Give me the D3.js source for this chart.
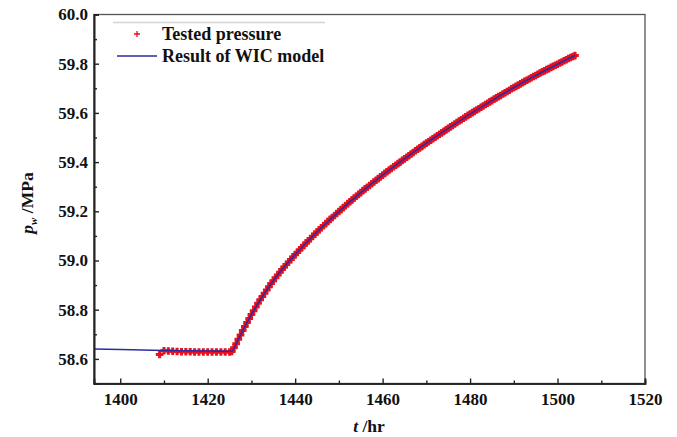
<!DOCTYPE html>
<html>
<head>
<meta charset="utf-8">
<script src="https://cdn.jsdelivr.net/npm/d3@7"></script>
<style>
  html, body { margin: 0; padding: 0; background: #fff; }
  svg { display: block; }
  text { font-family: "Liberation Serif", "Times New Roman", serif; font-weight: bold; fill: #111; }
</style>
</head>
<body>
<svg id="chart" width="677" height="437"></svg>
<script>
// Tested bottom-hole pressure (hr, MPa)
const testedTime = [
  1409, 1410, 1411, 1412, 1413, 1414, 1415, 1416, 1417, 1418, 1419, 1420, 1421, 1422, 1423, 1424, 1425,
  1425.5, 1426, 1426.5, 1427, 1427.5, 1428, 1428.5, 1429, 1429.5, 1430, 1430.5, 1431, 1431.5, 1432, 1432.5,
  1433, 1433.5, 1434, 1434.5, 1435, 1435.5, 1436, 1436.5, 1437, 1437.5, 1438, 1438.5, 1439, 1439.5,
  1440, 1440.5, 1441, 1441.5, 1442, 1442.5, 1443, 1443.5, 1444, 1444.5, 1445, 1445.5,
  1446, 1446.5, 1447, 1447.5, 1448, 1448.5, 1449, 1449.5, 1450, 1450.5, 1451, 1451.5, 1452, 1452.5,
  1453, 1453.5, 1454, 1454.5, 1455, 1455.5, 1456, 1456.5, 1457, 1457.5, 1458, 1458.5, 1459, 1459.5,
  1460, 1460.5, 1461, 1461.5, 1462, 1462.5, 1463, 1463.5, 1464, 1464.5, 1465, 1465.5, 1466, 1466.5,
  1467, 1467.5, 1468, 1468.5, 1469, 1469.5, 1470, 1470.5, 1471, 1471.5, 1472, 1472.5, 1473, 1473.5,
  1474, 1474.5, 1475, 1475.5, 1476, 1476.5, 1477, 1477.5, 1478, 1478.5, 1479, 1479.5, 1480, 1480.5,
  1481, 1481.5, 1482, 1482.5, 1483, 1483.5, 1484, 1484.5, 1485, 1485.5, 1486, 1486.5, 1487, 1487.5,
  1488, 1488.5, 1489, 1489.5, 1490, 1490.5, 1491, 1491.5, 1492, 1492.5, 1493, 1493.5, 1494, 1494.5,
  1495, 1495.5, 1496, 1496.5, 1497, 1497.5, 1498, 1498.5, 1499, 1499.5, 1500, 1500.5, 1501, 1501.5,
  1502, 1502.5, 1503, 1503.5, 1504
];
const testedPressure = [
  58.618, 58.633, 58.632, 58.631, 58.630, 58.629, 58.629, 58.629, 58.628, 58.628, 58.628, 58.628, 58.628, 58.628, 58.628, 58.628, 58.628,
  58.630, 58.645, 58.662, 58.680, 58.697, 58.715, 58.732, 58.748, 58.764, 58.780, 58.796, 58.811, 58.826, 58.840, 58.854,
  58.867, 58.880, 58.893, 58.906, 58.918, 58.930, 58.941, 58.952, 58.963, 58.974, 58.984, 58.994, 59.004, 59.014,
  59.024, 59.033, 59.043, 59.052, 59.062, 59.071, 59.080, 59.089, 59.098, 59.107, 59.116, 59.125,
  59.133, 59.142, 59.150, 59.159, 59.167, 59.175, 59.183, 59.191, 59.199, 59.207, 59.215, 59.223, 59.231, 59.239,
  59.246, 59.254, 59.261, 59.269, 59.276, 59.284, 59.291, 59.298, 59.305, 59.312, 59.319, 59.326, 59.333, 59.340,
  59.347, 59.354, 59.361, 59.368, 59.374, 59.381, 59.387, 59.394, 59.400, 59.407, 59.413, 59.420, 59.426, 59.433,
  59.439, 59.446, 59.452, 59.458, 59.464, 59.471, 59.477, 59.483, 59.489, 59.495, 59.501, 59.507, 59.513, 59.519,
  59.525, 59.531, 59.537, 59.543, 59.549, 59.555, 59.561, 59.567, 59.572, 59.578, 59.584, 59.590, 59.595, 59.601,
  59.606, 59.612, 59.617, 59.623, 59.628, 59.634, 59.639, 59.645, 59.650, 59.656, 59.661, 59.666, 59.671, 59.677,
  59.682, 59.687, 59.692, 59.698, 59.703, 59.708, 59.713, 59.718, 59.723, 59.728, 59.733, 59.738, 59.743, 59.748,
  59.752, 59.757, 59.762, 59.767, 59.771, 59.776, 59.780, 59.785, 59.789, 59.794, 59.798, 59.803, 59.807, 59.812,
  59.816, 59.821, 59.825, 59.829, 59.833
];

// WIC model result (hr, MPa)
const modelTime = [
  1394, 1400, 1405, 1410, 1415, 1420, 1425.5, 1427, 1429, 1431, 1433, 1435, 1437, 1440,
  1445, 1450, 1455, 1460, 1465, 1470, 1475, 1480, 1485, 1490, 1495, 1500, 1504
];
const modelPressure = [
  58.640, 58.638, 58.636, 58.634, 58.633, 58.632, 58.631, 58.680, 58.748, 58.811, 58.867, 58.918, 58.963, 59.024,
  59.116, 59.199, 59.276, 59.347, 59.413, 59.477, 59.537, 59.595, 59.650, 59.703, 59.752, 59.798, 59.833
];

// Axis ticks
const xTicks = [1400, 1420, 1440, 1460, 1480, 1500, 1520];
const xMinorTicks = [1410, 1430, 1450, 1470, 1490, 1510];
const yTicks = [58.6, 58.8, 59.0, 59.2, 59.4, 59.6, 59.8, 60.0];
const yMinorTicks = [58.5, 58.7, 58.9, 59.1, 59.3, 59.5, 59.7, 59.9];

const seriesNames = ["Tested pressure", "Result of WIC model"];

const svg = d3.select("#chart");
const plotLeft = 94, plotRight = 645, plotTop = 14.5, plotBottom = 383.5;

const x = d3.scaleLinear().domain([1394, 1520]).range([plotLeft, plotRight]);
const y = d3.scaleLinear().domain([58.5, 60.0]).range([plotBottom, plotTop]);

const red = "#e8101c";
const blue = "#2b2ba6";

// frame
svg.append("rect")
  .attr("x", plotLeft).attr("y", plotTop)
  .attr("width", plotRight - plotLeft).attr("height", plotBottom - plotTop)
  .attr("fill", "none").attr("stroke", "#555").attr("stroke-width", 1.3);

// tested data as "+" markers
const plusPath = (s) => `M${-s},0H${s}M0,${-s}V${s}`;
svg.append("g")
  .selectAll("path")
  .data(testedTime.map((t, i) => [t, testedPressure[i]]))
  .join("path")
  .attr("transform", d => `translate(${x(d[0])},${y(d[1])})`)
  .attr("d", plusPath(3.8))
  .attr("stroke", red)
  .attr("stroke-width", 3)
  .attr("fill", "none");

// model line
const line = d3.line()
  .x(d => x(d[0])).y(d => y(d[1]))
  .curve(d3.curveMonotoneX);
svg.append("path")
  .datum(modelTime.map((t, i) => [t, modelPressure[i]]))
  .attr("d", line)
  .attr("fill", "none")
  .attr("stroke", blue)
  .attr("stroke-width", 1.6);

// axes
const fmt = d3.format(".1f");
svg.append("g")
  .attr("transform", `translate(0,${plotBottom})`)
  .call(d3.axisBottom(x).tickValues(xTicks).tickSize(-5).tickPadding(9).tickFormat(d3.format("d")));
svg.append("g")
  .attr("transform", `translate(0,${plotBottom})`)
  .call(d3.axisBottom(x).tickValues(xMinorTicks).tickSize(-3).tickFormat(""));
svg.append("g")
  .attr("transform", `translate(${plotLeft},0)`)
  .call(d3.axisLeft(y).tickValues(yTicks).tickSize(-5).tickPadding(6).tickFormat(fmt));
svg.append("g")
  .attr("transform", `translate(${plotLeft},0)`)
  .call(d3.axisLeft(y).tickValues(yMinorTicks).tickSize(-3).tickFormat(""));

svg.selectAll(".domain").attr("stroke", "#222").attr("stroke-width", 1.6);
svg.selectAll(".tick line").attr("stroke", "#222").attr("stroke-width", 1.4);
svg.selectAll(".tick text")
  .attr("font-family", "Liberation Serif, Times New Roman, serif")
  .attr("font-weight", "bold")
  .attr("font-size", 17)
  .attr("fill", "#111");

// axis titles
const xTitle = svg.append("text")
  .attr("x", 369).attr("y", 432)
  .attr("text-anchor", "middle")
  .attr("font-size", 17.5);
xTitle.append("tspan").attr("font-style", "italic").text("t");
xTitle.append("tspan").text(" /hr");

const yTitle = svg.append("text")
  .attr("transform", "translate(33,203) rotate(-90)")
  .attr("text-anchor", "middle")
  .attr("font-size", 17.5);
yTitle.append("tspan").attr("font-style", "italic").text("p");
yTitle.append("tspan").attr("font-style", "italic").attr("font-size", 11).attr("dy", 4).text("w");
yTitle.append("tspan").attr("dy", -4).text(" /MPa");

// legend
svg.append("line")
  .attr("x1", 113).attr("x2", 325).attr("y1", 22.5).attr("y2", 22.5)
  .attr("stroke", "#d4d4d4").attr("stroke-width", 1.5);
svg.append("path")
  .attr("transform", "translate(137,34)")
  .attr("d", plusPath(3))
  .attr("stroke", red).attr("stroke-width", 1.3).attr("fill", "none");
svg.append("line")
  .attr("x1", 117).attr("x2", 157).attr("y1", 56).attr("y2", 56)
  .attr("stroke", blue).attr("stroke-width", 1.6);
svg.append("text").attr("x", 162).attr("y", 39.5).attr("font-size", 18).text(seriesNames[0]);
svg.append("text").attr("x", 162).attr("y", 61.5).attr("font-size", 18).text(seriesNames[1]);
</script>
</body>
</html>
